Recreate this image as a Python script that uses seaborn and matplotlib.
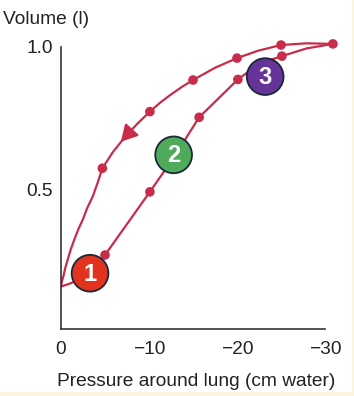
import matplotlib
matplotlib.use("Agg")
import matplotlib.pyplot as plt
import seaborn as sns
import pandas as pd
from matplotlib.patches import Rectangle

# Deflation (upper) curve path
defl_p = [-30.9, -27.9, -25.0, -22.4, -20.0, -17.5, -15.0, -13.7, -12.4, -11.25, -10.1,
          -8.7, -7.3, -5.9, -4.7, -4.2, -3.6, -2.99, -2.47, -1.95, -1.51, -1.1, -0.76,
          -0.48, -0.26, -0.1, 0.0]
defl_v = [1.010, 1.012, 1.006, 0.986, 0.960, 0.926, 0.883, 0.858, 0.830, 0.803, 0.772,
          0.730, 0.684, 0.630, 0.573, 0.525, 0.473, 0.434, 0.392, 0.357, 0.322, 0.287, 0.251,
          0.222, 0.192, 0.175, 0.157]
# Inflation (lower) curve path
infl_p = [0.0, -0.57, -1.14, -2.5, -3.8, -5.0, -10.1, -12.8, -15.7, -20.1, -22.6, -25.1,
          -27.9, -30.9]
infl_v = [0.157, 0.163, 0.169, 0.190, 0.225, 0.268, 0.490, 0.610, 0.752, 0.885, 0.942,
          0.967, 0.994, 1.010]

# Dots
dot_defl_p = [-30.9, -25.0, -20.0, -15.0, -10.1, -4.7]
dot_defl_v = [1.010, 1.006, 0.960, 0.883, 0.772, 0.573]
dot_infl_p = [-5.0, -10.1, -15.7, -20.1, -25.1]
dot_infl_v = [0.268, 0.490, 0.752, 0.885, 0.967]

# Numbered circles
circ_labels = ["1", "2", "3"]
circ_p = [-3.3, -12.8, -23.2]
circ_v = [0.204, 0.62, 0.895]
circ_colors = ["#E2331F", "#4FAA5B", "#663399"]

x_ticks = [0, -10, -20, -30]
y_ticks = [0.5, 1.0]

CURVE = "#C92B4A"
EDGE = "#1B2838"

sns.set_style("white")
plt.rcParams["font.family"] = ["Liberation Sans", "DejaVu Sans"]

fig = plt.figure(figsize=(3.54, 3.96), dpi=100)
fig.patch.set_facecolor("#FCF3DE")
fig.patches.append(Rectangle((0, 4 / 396), 352 / 354, 1, transform=fig.transFigure,
                             facecolor="white", edgecolor="none", zorder=-10))

ax = fig.add_axes([61 / 354, (396 - 329) / 396, 290.4 / 354, 296.5 / 396])
ax.set_facecolor("none")

d1 = pd.DataFrame({"p": defl_p, "v": defl_v})
d2 = pd.DataFrame({"p": infl_p, "v": infl_v})
sns.lineplot(data=d1, x="p", y="v", sort=False, color=CURVE, lw=1.6, ax=ax, zorder=2)
sns.lineplot(data=d2, x="p", y="v", sort=False, color=CURVE, lw=1.6, ax=ax, zorder=2)

dd = pd.DataFrame({"p": dot_defl_p + dot_infl_p, "v": dot_defl_v + dot_infl_v})
sns.scatterplot(data=dd, x="p", y="v", color=CURVE, s=48, edgecolor="none", ax=ax, zorder=3)

ax.annotate("", xy=(-6.8, 0.666), xytext=(-7.8, 0.700),
            arrowprops=dict(arrowstyle="-|>,head_length=0.45,head_width=0.25", color=CURVE,
                            lw=1.6, mutation_scale=22, shrinkA=0, shrinkB=0), zorder=3)

dc = pd.DataFrame({"p": circ_p, "v": circ_v, "lab": circ_labels})
sns.scatterplot(data=dc, x="p", y="v", hue="lab", palette=circ_colors, s=700,
                edgecolor=EDGE, linewidth=1.3, legend=False, ax=ax, zorder=4)
for lab, p, v in zip(circ_labels, circ_p, circ_v):
    ax.text(p, v - 0.003, lab, color="white", fontsize=17, fontweight="bold",
            ha="center", va="center", zorder=5)

ax.set_xlim(0, -33)
ax.set_ylim(0.008, 1.05)
ax.set_xticks(x_ticks)
ax.set_xticklabels(["0", "\u221210", "\u221220", "\u221230"])
ax.set_yticks(y_ticks)
ax.set_yticklabels(["0.5", "1.0"])
for s in ["top", "right"]:
    ax.spines[s].set_visible(False)
for s in ["left", "bottom"]:
    ax.spines[s].set_color("#333333")
    ax.spines[s].set_linewidth(1.2)
ax.spines["bottom"].set_bounds(0, -30)
ax.spines["left"].set_bounds(0.008, 1.0)
ax.tick_params(axis="both", direction="in", length=7.5, width=1.0, color="#444444",
               labelsize=13.8, labelcolor="#222222")
ax.tick_params(axis="x", pad=9)
ax.tick_params(axis="y", pad=6)
ax.set_xlabel("")
ax.set_ylabel("")

fig.text(3 / 354, 1 - 19 / 396, "Volume (l)", fontsize=13.8, color="#222222",
         ha="left", va="center")
fig.text(196 / 354, 1 - 382 / 396, "Pressure around lung (cm water)", fontsize=13.8,
         color="#222222", ha="center", va="center")

fig.savefig("out.png", dpi=100, facecolor=fig.get_facecolor())
